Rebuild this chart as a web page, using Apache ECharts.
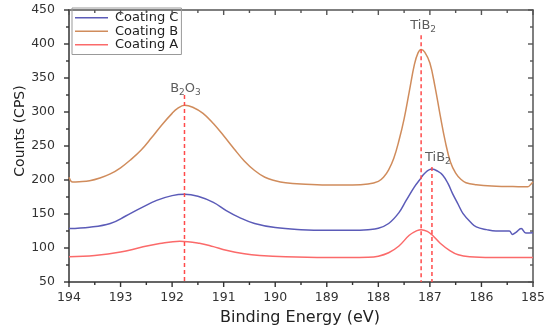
<!DOCTYPE html>
<html>
<head>
<meta charset="utf-8">
<script src="https://cdn.jsdelivr.net/npm/echarts@6/dist/echarts.min.js"></script>
<style>html,body{margin:0;padding:0;background:#fff}#c{width:550px;height:331px}</style>
</head>
<body>
<div id="c"></div>
<script>
// Binding energy (eV) and counts (CPS)
const energyB = [194.0,193.93,193.8,193.6,193.4,193.2,193.0,192.8,192.6,192.4,192.2,192.0,191.9,191.76,191.6,191.4,191.2,191.0,190.8,190.6,190.4,190.2,190.0,189.8,189.5,189.0,188.5,188.2,188.0,187.9,187.8,187.7,187.6,187.5,187.4,187.3,187.23,187.17,187.1,187.0,186.9,186.8,186.7,186.6,186.5,186.4,186.3,186.1,185.8,185.5,185.2,185.1,185.05,185.0];
const countsB = [204,197,197.5,199,203,209,218,230,244,262,281,298,305,310,307,298,283,265,246,228,214,204,199,196,194,192.5,192.5,194,198,204,215,232,258,290,330,370,387,392,388,372,337,295,256,226,210,201,196,193,191,190.5,190,190,193,197];

const energyC = [194.0,193.6,193.2,192.9,192.6,192.3,192.0,191.76,191.5,191.2,190.95,190.7,190.4,190.0,189.5,189.0,188.5,188.2,188.0,187.8,187.6,187.46,187.3,187.2,187.1,186.96,186.85,186.75,186.65,186.56,186.45,186.36,186.2,186.1,185.9,185.72,185.46,185.4,185.33,185.23,185.14,185.0];
const countsC = [128.5,130.5,136,147,159,170,177,179,176,167,155,145,136,130,127,126,126,127,129,136,152,170,190,200,210,216,213,207,195,180,164,151,137,131,127,125,125,120,123,128.5,122,122.5];

const energyA = [194.0,193.5,193.0,192.6,192.24,191.85,191.47,191.2,190.95,190.6,190.3,189.8,189.0,188.2,188.0,187.8,187.6,187.4,187.25,187.17,187.05,186.95,186.8,186.62,186.45,186.23,185.8,185.0];
const countsA = [87,89,94,101,106.5,110,107,102,96.6,91.5,89,87,86,86.5,88,93,103,118.7,125.5,127,124.5,118.7,107,96.6,90,87,86,86];

// Peak reference markers
const peakEnergy = [191.76, 187.17, 186.96];
const peakTop = [325, 413, 219];
const peakText = ['B{s|2}O{s|3}', 'TiB{s|2}', 'TiB{s|2}'];

const seriesNames = ['Coating C', 'Coating B', 'Coating A'];
const xTicks = {min: 185, max: 194, interval: 1};
const yTicks = {min: 50, max: 450, interval: 50};
// Tick mark values (major / minor)
const xMajorTicks = [185, 186, 187, 188, 189, 190, 191, 192, 193, 194];
const xMinorTicks = [185.5, 186.5, 187.5, 188.5, 189.5, 190.5, 191.5, 192.5, 193.5];
const yMajorTicks = [50, 100, 150, 200, 250, 300, 350, 400, 450];
const yMinorTicks = [75, 125, 175, 225, 275, 325, 375, 425];

const colors = {'Coating C': '#5b5bb8', 'Coating B': '#d08c5c', 'Coating A': '#fb6a6a'};
const FONT = 'DejaVu Sans';
const MAJOR_LEN = 5, MINOR_LEN = 3, TICK_W = 1.4;

function zip(xs, ys) { return xs.map((x, i) => [x, ys[i]]); }

const curveData = {
  'Coating C': zip(energyC, countsC),
  'Coating B': zip(energyB, countsB),
  'Coating A': zip(energyA, countsA)
};

const series = [];
seriesNames.forEach(n => {
  series.push({
    name: n, type: 'line', data: curveData[n], smooth: 0.4, symbol: 'none', showSymbol: false,
    lineStyle: {color: colors[n], width: 1.5}, itemStyle: {color: colors[n]}, z: 3
  });
});
const labelOffsets = [[1, 3], [2, 0], [6, 0]];
peakEnergy.forEach((e, i) => {
  series.push({
    type: 'line', symbol: 'none', silent: true, z: 4,
    data: [[e, peakTop[i]], [e, yTicks.min]],
    lineStyle: {color: '#ff4a4a', width: 1.5, type: [4, 3]}
  });
});
series.push({
  type: 'scatter', symbolSize: 0, silent: true, z: 5,
  data: peakEnergy.map((e, i) => ({
    value: [e, peakTop[i]],
    label: {show: true, position: 'top', distance: 1, offset: labelOffsets[i], formatter: peakText[i]}
  })),
  label: {
    color: '#333', fontFamily: FONT, fontSize: 13,
    rich: {s: {fontSize: 9, fontFamily: FONT, color: '#333', padding: [8, 0, 0, 0]}}
  }
});

function axisStyle(color) {
  return {
    axisLine: {show: true, onZero: false, lineStyle: {color: color, width: 1.5}},
    axisTick: {show: false},
    minorTick: {show: false},
    splitLine: {show: false},
    minorSplitLine: {show: false}
  };
}

const option = {
  animation: false,
  backgroundColor: '#fff',
  grid: {left: 69, right: 17, top: 10, bottom: 49},
  legend: {
    data: seriesNames.map(n => ({name: n, icon: 'rect'})), orient: 'vertical', left: 72, top: 8,
    itemWidth: 33, itemHeight: 1.5, itemGap: 0, padding: [3, 3, 3, 3],
    borderColor: '#999', borderWidth: 1,
    textStyle: {fontFamily: FONT, fontSize: 13, lineHeight: 13.5, color: '#222', padding: [0, 0, 0, 2]}
  },
  xAxis: [
    Object.assign({type: 'value', min: xTicks.min, max: xTicks.max, interval: xTicks.interval, inverse: true, position: 'bottom'},
      axisStyle('#333'),
      {axisLabel: {color: '#333', fontFamily: FONT, fontSize: 12.5, margin: 9}}),
    Object.assign({type: 'value', min: xTicks.min, max: xTicks.max, interval: xTicks.interval, inverse: true, position: 'top'},
      axisStyle('#555'),
      {axisLabel: {show: false}})
  ],
  yAxis: [
    Object.assign({type: 'value', min: yTicks.min, max: yTicks.max, interval: yTicks.interval, position: 'left'},
      axisStyle('#333'),
      {axisLabel: {color: '#333', fontFamily: FONT, fontSize: 12.5, margin: 14}}),
    Object.assign({type: 'value', min: yTicks.min, max: yTicks.max, interval: yTicks.interval, position: 'right'},
      axisStyle('#555'),
      {axisLabel: {show: false}})
  ],
  series: series
};

const chart = echarts.init(document.getElementById('c'), null, {renderer: 'canvas'});
chart.setOption(option);

// Axis titles and tick marks (tick positions come from the chart's own scales)
const graphics = [
  {type: 'text', x: 300, y: 318, silent: true, style: {text: 'Binding Energy (eV)', fill: '#222', font: '16px "DejaVu Sans"', textAlign: 'center', textVerticalAlign: 'middle'}},
  {type: 'text', x: 20, y: 131, rotation: Math.PI / 2, silent: true, style: {text: 'Counts (CPS)', fill: '#222', font: '14px "DejaVu Sans"', textAlign: 'center', textVerticalAlign: 'middle'}}
];
function px(v) { return chart.convertToPixel({xAxisIndex: 0, yAxisIndex: 0}, v); }
function addXTicks(vals, len) {
  vals.forEach(v => {
    const b = px([v, yTicks.min]);
    const t = px([v, yTicks.max]);
    graphics.push({type: 'rect', silent: true, z: 50, shape: {x: b[0] - TICK_W / 2, y: b[1], width: TICK_W, height: len}, style: {fill: '#333'}});
    graphics.push({type: 'rect', silent: true, z: 50, shape: {x: t[0] - TICK_W / 2, y: t[1], width: TICK_W, height: len}, style: {fill: '#555'}});
  });
}
function addYTicks(vals, len) {
  vals.forEach(v => {
    const l = px([xTicks.max, v]);
    const r = px([xTicks.min, v]);
    graphics.push({type: 'rect', silent: true, z: 50, shape: {x: l[0] - len, y: l[1] - TICK_W / 2, width: len, height: TICK_W}, style: {fill: '#333'}});
    graphics.push({type: 'rect', silent: true, z: 50, shape: {x: r[0] - len, y: r[1] - TICK_W / 2, width: len, height: TICK_W}, style: {fill: '#555'}});
  });
}
addXTicks(xMajorTicks, MAJOR_LEN);
addXTicks(xMinorTicks, MINOR_LEN);
addYTicks(yMajorTicks, MAJOR_LEN);
addYTicks(yMinorTicks, MINOR_LEN);
chart.setOption({graphic: graphics});
</script>
</body>
</html>
